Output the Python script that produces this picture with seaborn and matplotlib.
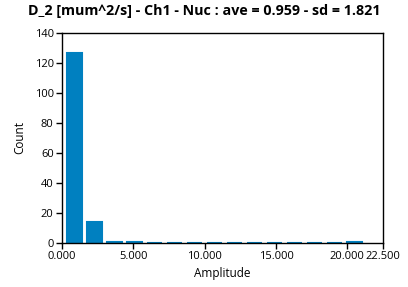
import matplotlib
matplotlib.use("Agg")
import matplotlib.pyplot as plt
import seaborn as sns
import numpy as np
import pandas as pd
from matplotlib.ticker import FormatStrFormatter

bin_centers = [0.88, 2.28, 3.68, 5.08, 6.48, 7.88, 9.28, 10.68, 12.08, 13.48, 14.88, 16.28, 17.68, 19.08, 20.48]
counts = [127, 14, 1, 1, 0, 0, 0, 0, 0, 0, 0, 0, 0, 0, 1]
x_ticks = [0, 5, 10, 15, 20, 22.5]
y_ticks = [0, 20, 40, 60, 80, 100, 120, 140]
title = "D_2 [mum^2/s] - Ch1 - Nuc : ave = 0.959 - sd = 1.821"

sns.set_theme(style="white")
plt.rcParams['font.family'] = ['Open Sans', 'DejaVu Sans']
plt.rcParams['text.color'] = 'black'
plt.rcParams['axes.labelcolor'] = 'black'
plt.rcParams['xtick.color'] = 'black'
plt.rcParams['ytick.color'] = 'black'

fig = plt.figure(figsize=(4.08, 2.87), dpi=100)
ax = fig.add_axes([62/408, 44/287, (383-62)/408, (243-33)/287])

df = pd.DataFrame({"Amplitude": bin_centers, "Count": counts})
width = 1.4
edges = [bin_centers[0] - width/2 + width*i for i in range(len(bin_centers)+1)]
sns.histplot(data=df, x="Amplitude", weights="Count", bins=edges, shrink=0.75,
             color="#0080C0", edgecolor="#0080C0", linewidth=1.5, alpha=1, ax=ax)
for p in ax.patches:
    p.set_linewidth(1.5)
    p.set_edgecolor("#0080C0")

ax.set_xlim(0, 22.5)
ax.set_ylim(0, 140)
ax.set_xticks(x_ticks)
ax.set_yticks(y_ticks)
ax.xaxis.set_major_formatter(FormatStrFormatter('%.3f'))
ax.tick_params(axis='both', direction='out', length=4, width=1, color='black', labelcolor='black',
               labelsize=8, pad=2, bottom=True, left=True)
for s in ax.spines.values():
    s.set_color('black')
    s.set_linewidth(1)
    s.set_zorder(5)
ax.set_xlabel("Amplitude", fontsize=8.5, labelpad=3, color='black')
ax.set_ylabel("Count", fontsize=8.5, labelpad=6, color='black')
fig.suptitle(title, x=0.5, y=0.985, va='top', fontsize=10.3, fontweight='bold', color='black')
ax.grid(False)

fig.savefig("out.png", dpi=100)
